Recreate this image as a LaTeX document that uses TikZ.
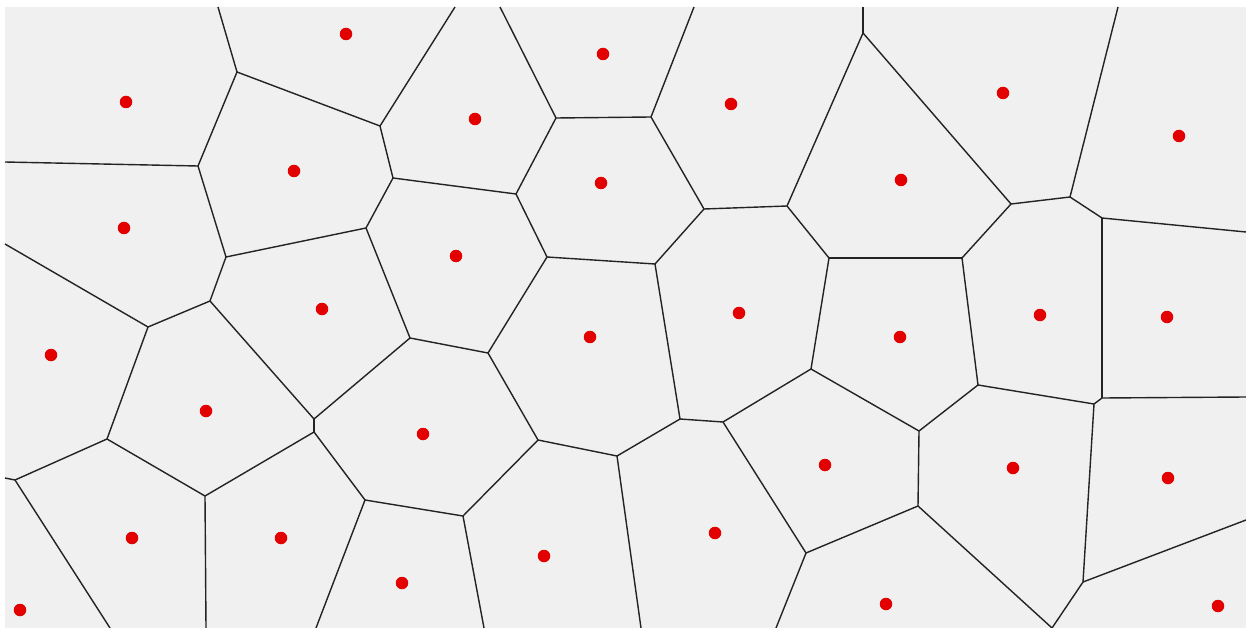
\documentclass[tikz,border=0pt]{standalone}
\definecolor{cellgray}{RGB}{240,240,240}
\definecolor{sitered}{RGB}{226,0,0}
\definecolor{edgecol}{RGB}{35,35,35}
\begin{document}
\begin{tikzpicture}[x=1pt,y=-1pt,
  edge/.style={draw=edgecol, line width=1.4pt},
  site/.style={circle, fill=sitered, inner sep=0pt, minimum size=12.5pt}]
\useasboundingbox (0,0) rectangle (1246,628);
\fill[white] (0,0) rectangle (1246,628);
\fill[cellgray] (5,7) rectangle (1246,628);
% inner vertices
\coordinate (A) at (237,72);
\coordinate (B) at (380,126);
\coordinate (C) at (198,166);
\coordinate (D) at (226,257);
\coordinate (E) at (366,228);
\coordinate (F) at (210,301);
\coordinate (G) at (148,327);
\coordinate (H) at (107,439);
\coordinate (I1) at (314,419);
\coordinate (I2) at (314,432);
\coordinate (J) at (410,338);
\coordinate (K) at (488,353);
\coordinate (L) at (547,257);
\coordinate (M) at (516,194);
\coordinate (N) at (655,264);
\coordinate (O) at (538,440);
\coordinate (P) at (556,118);
\coordinate (Q) at (651,117);
\coordinate (R) at (393,178);
\coordinate (S) at (704,209);
\coordinate (T) at (787,206);
\coordinate (U) at (863,33);
\coordinate (V) at (1011,204);
\coordinate (W) at (1070,197);
\coordinate (X) at (1102,218);
\coordinate (Y) at (962,258);
\coordinate (Z) at (1102,398);
\coordinate (AA) at (829,258);
\coordinate (AB) at (978,385);
\coordinate (AC) at (1094,404);
\coordinate (AD) at (919,431);
\coordinate (AE) at (680,419);
\coordinate (AF) at (811,369);
\coordinate (AG) at (723,422);
\coordinate (AH) at (617,456);
\coordinate (AI) at (463,516);
\coordinate (AJ) at (365,500);
\coordinate (AK) at (15,480);
\coordinate (AL) at (205,496);
\coordinate (AM) at (806,553);
\coordinate (AN) at (918,506);
\coordinate (AO) at (1083,582);
% border ends
\coordinate (t1) at (218,7);
\coordinate (t2) at (455,7);
\coordinate (t3) at (500,7);
\coordinate (t4) at (694,7);
\coordinate (t5) at (863,7);
\coordinate (t6) at (1118,7);
\coordinate (l1) at (5,162);
\coordinate (l2) at (5,244);
\coordinate (l3) at (5,478);
\coordinate (r1) at (1246,232);
\coordinate (r2) at (1246,397);
\coordinate (r3) at (1246,520);
\coordinate (b1) at (110,628);
\coordinate (b2) at (206,628);
\coordinate (b3) at (316,628);
\coordinate (b4) at (484,628);
\coordinate (b5) at (641,628);
\coordinate (b6) at (776,628);
\coordinate (b7) at (1052,628);
% edges
\foreach \a/\b in {t1/A, A/B, t2/B, A/C, C/l1, C/D, D/E, D/F, F/G, G/l2, G/H,
  F/I1, I1/I2, I1/J, E/J, J/K, K/L, L/M, L/N, K/O, t3/P, P/Q, Q/t4, P/M,
  B/R, R/M, R/E, Q/S, S/N, S/T, T/U, U/t5, U/V, V/W, W/t6, W/X, X/r1, X/Z,
  Z/r2, Z/AC, V/Y, Y/AA, T/AA, Y/AB, AB/AC, AB/AD, AA/AF, AF/AG, AF/AD,
  N/AE, AE/AG, AE/AH, O/AH, AH/b5, O/AI, AI/AJ, AJ/I2, AJ/b3, AI/b4,
  H/AK, AK/l3, AK/b1, H/AL, AL/I2, AL/b2, AG/AM, AM/AN, AN/AD, AN/b7,
  AM/b6, AC/AO, AO/r3, AO/b7}
  \draw[edge] (\a) -- (\b);
% sites
\foreach \n/\x/\y in {s1/126/102, s2/346/34, s3/475/119, s4/603/54, s5/731/104,
  s6/1003/93, s7/1179/136, s8/294/171, s9/124/228, s10/601/183, s11/901/180,
  s12/456/256, s13/322/309, s14/51/355, s15/590/337, s16/739/313, s17/900/337,
  s18/1040/315, s19/1167/317, s20/206/411, s21/423/434, s22/825/465,
  s23/1013/468, s24/1168/478, s25/132/538, s26/281/538, s27/544/556,
  s28/715/533, s29/402/583, s30/20/610, s31/886/604, s32/1218/606}
  \node[site] (\n) at (\x,\y) {};
\end{tikzpicture}
\end{document}
